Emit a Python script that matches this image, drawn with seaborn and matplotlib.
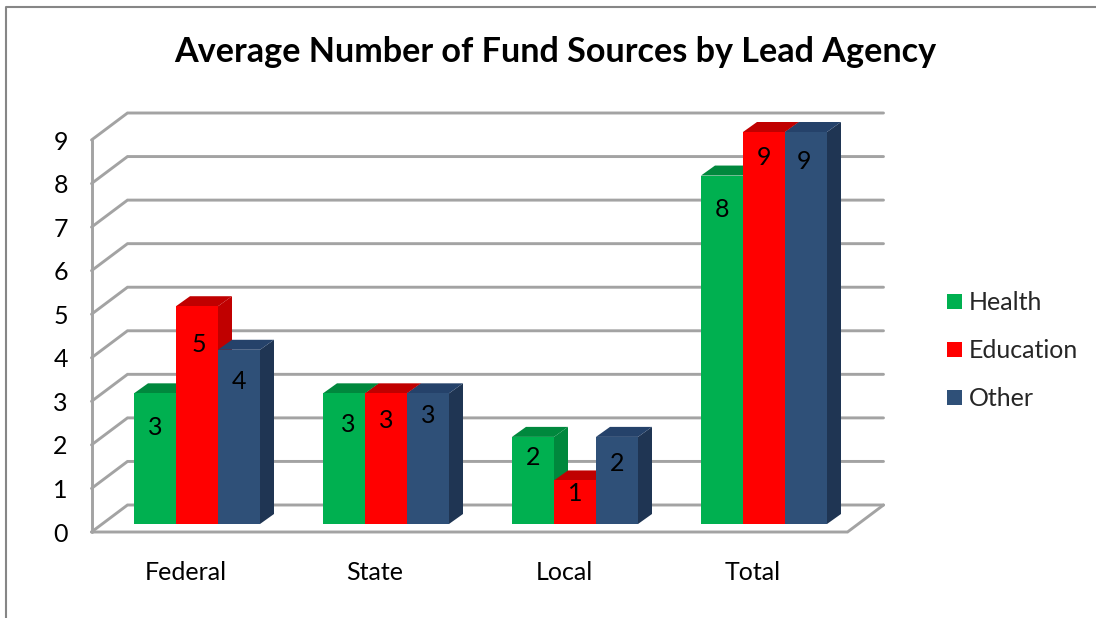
import matplotlib
matplotlib.use("Agg")
import matplotlib.pyplot as plt
import pandas as pd
import seaborn as sns
from matplotlib.lines import Line2D
from matplotlib.patches import Polygon
from matplotlib.transforms import ScaledTranslation

# Data
categories = ["Federal", "State", "Local", "Total"]
health = [3, 3, 2, 8]
education = [5, 3, 1, 9]
other = [4, 3, 2, 9]
y_ticks = [0, 1, 2, 3, 4, 5, 6, 7, 8, 9]

# label offsets from bar top centre in px (labels were placed by hand in the original)
label_drop = [34, 31, 21, 34, 38, 27, 13, 25, 32, 22, 27, 29]
label_shift = [0, 4, 0, 0, 2, 0, 0, 0, 0, 0, 0, -2]

front_colors = {"Health": "#00B050", "Education": "#FF0000", "Other": "#2F5078"}
side_colors = ["#00883D", "#C00000", "#1F3553"]
top_colors = ["#00883D", "#C00000", "#25426A"]
grid_color = "#A3A3A3"

df = pd.DataFrame({
    "category": categories * 3,
    "value": health + education + other,
    "series": ["Health"] * 4 + ["Education"] * 4 + ["Other"] * 4,
})

W, H, DPI = 1096, 618, 100

sns.set_style("white")
plt.rcParams["font.family"] = ["Lato", "DejaVu Sans"]

fig = plt.figure(figsize=(W / DPI, H / DPI), dpi=DPI)
ax = fig.add_axes([102.5 / W, (H - 524) / H, 756 / W, 392 / H])
ax.patch.set_alpha(0)

sns.barplot(data=df, x="category", y="value", hue="series", palette=front_colors,
            width=2 / 3, gap=0, saturation=1, ax=ax, linewidth=0, zorder=5)
ax.set_xlim(-0.5, 3.5)
ax.set_ylim(0, 9)
ax.set_xlabel("")
ax.set_ylabel("")

# px -> data units
px_x = 4 / 756
px_y = 9 / 392


def wall(x, y, dx, dy):
    return x + dx * px_x, y + dy * px_y


# 3D walls: front edge is 11/8 px before the bar plane, back edge 25/19 px behind
x0, x1 = ax.get_xlim()
fx, fy = -11, -8
bx, by = 25, 19
for v in y_ticks:
    pts = [wall(x0, v, fx, fy), wall(x0, v, bx, by), wall(x1, v, bx, by)]
    ax.plot(*zip(*pts), color=grid_color, lw=2.1, clip_on=False, zorder=1,
            solid_joinstyle="miter")
left = [wall(x0, y_ticks[0], fx, fy), wall(x0, y_ticks[-1], fx, fy)]
ax.plot(*zip(*left), color=grid_color, lw=2.1, clip_on=False, zorder=1)
floor = [wall(x0, 0, fx, fy), wall(x1, 0, fx, fy), wall(x1, 0, bx, by)]
ax.plot(*zip(*floor), color=grid_color, lw=2.1, clip_on=False, zorder=1,
        solid_joinstyle="miter")

# Bar depth, tops and value labels
bars = []
for s, cont in enumerate(ax.containers):
    for c, bar in enumerate(cont):
        bars.append((bar.get_x(), s, c, bar))
bars.sort(key=lambda b: b[0])

dx, dy = 14 * px_x, 10 * px_y
for i, (_, s, c, bar) in enumerate(bars):
    xl = bar.get_x()
    xr = xl + bar.get_width()
    top = bar.get_height()
    z = 5 + i * 2
    bar.set_zorder(z + 1)
    ax.add_patch(Polygon([(xr, 0), (xr + dx, dy), (xr + dx, top + dy), (xr, top)],
                         color=side_colors[s], lw=0, clip_on=False, zorder=z))
    ax.add_patch(Polygon([(xl, top), (xl + dx, top + dy), (xr + dx, top + dy), (xr, top)],
                         color=top_colors[s], lw=0, clip_on=False, zorder=z))
    k = s * 4 + c
    ax.annotate(str(int(top)), xy=(xl + bar.get_width() / 2, top),
                xytext=(label_shift[k] * 72 / DPI, -label_drop[k] * 72 / DPI),
                textcoords="offset points",
                ha="center", va="center", fontsize=18, color="black", zorder=100,
                annotation_clip=False)

# Axis labels
ax.set_yticks(y_ticks)
ax.tick_params(axis="y", length=0, pad=25, labelsize=18, labelcolor="black")
ax.tick_params(axis="x", length=0, pad=27, labelsize=18, labelcolor="black")
ax.set_xticks(range(len(categories)))
ax.set_xticklabels(categories)
for label in ax.get_yticklabels():
    label.set_transform(label.get_transform() + ScaledTranslation(0, -8 / DPI, fig.dpi_scale_trans))
for label in ax.get_xticklabels():
    label.set_transform(label.get_transform() + ScaledTranslation(-11 / DPI, 0, fig.dpi_scale_trans))
sns.despine(ax=ax, left=True, bottom=True)

sns.move_legend(ax, "center left", bbox_to_anchor=(947 / W, (H - 351) / H),
                bbox_transform=fig.transFigure, frameon=False, title=None, fontsize=18,
                handlelength=0.58, handleheight=0.58, handletextpad=0.28, labelspacing=1.0,
                borderpad=0, borderaxespad=0)

fig.text(555 / W, (H - 52) / H, "Average Number of Fund Sources by Lead Agency",
         ha="center", va="center", fontsize=24.6, fontweight="bold", color="black")

# Chart frame cut off at the right and bottom
fig.add_artist(Line2D([6 / W, 6 / W, 1], [0, (H - 7) / H, (H - 7) / H],
                      color="#868686", lw=1.5, transform=fig.transFigure))

fig.savefig("out.png", dpi=DPI)
